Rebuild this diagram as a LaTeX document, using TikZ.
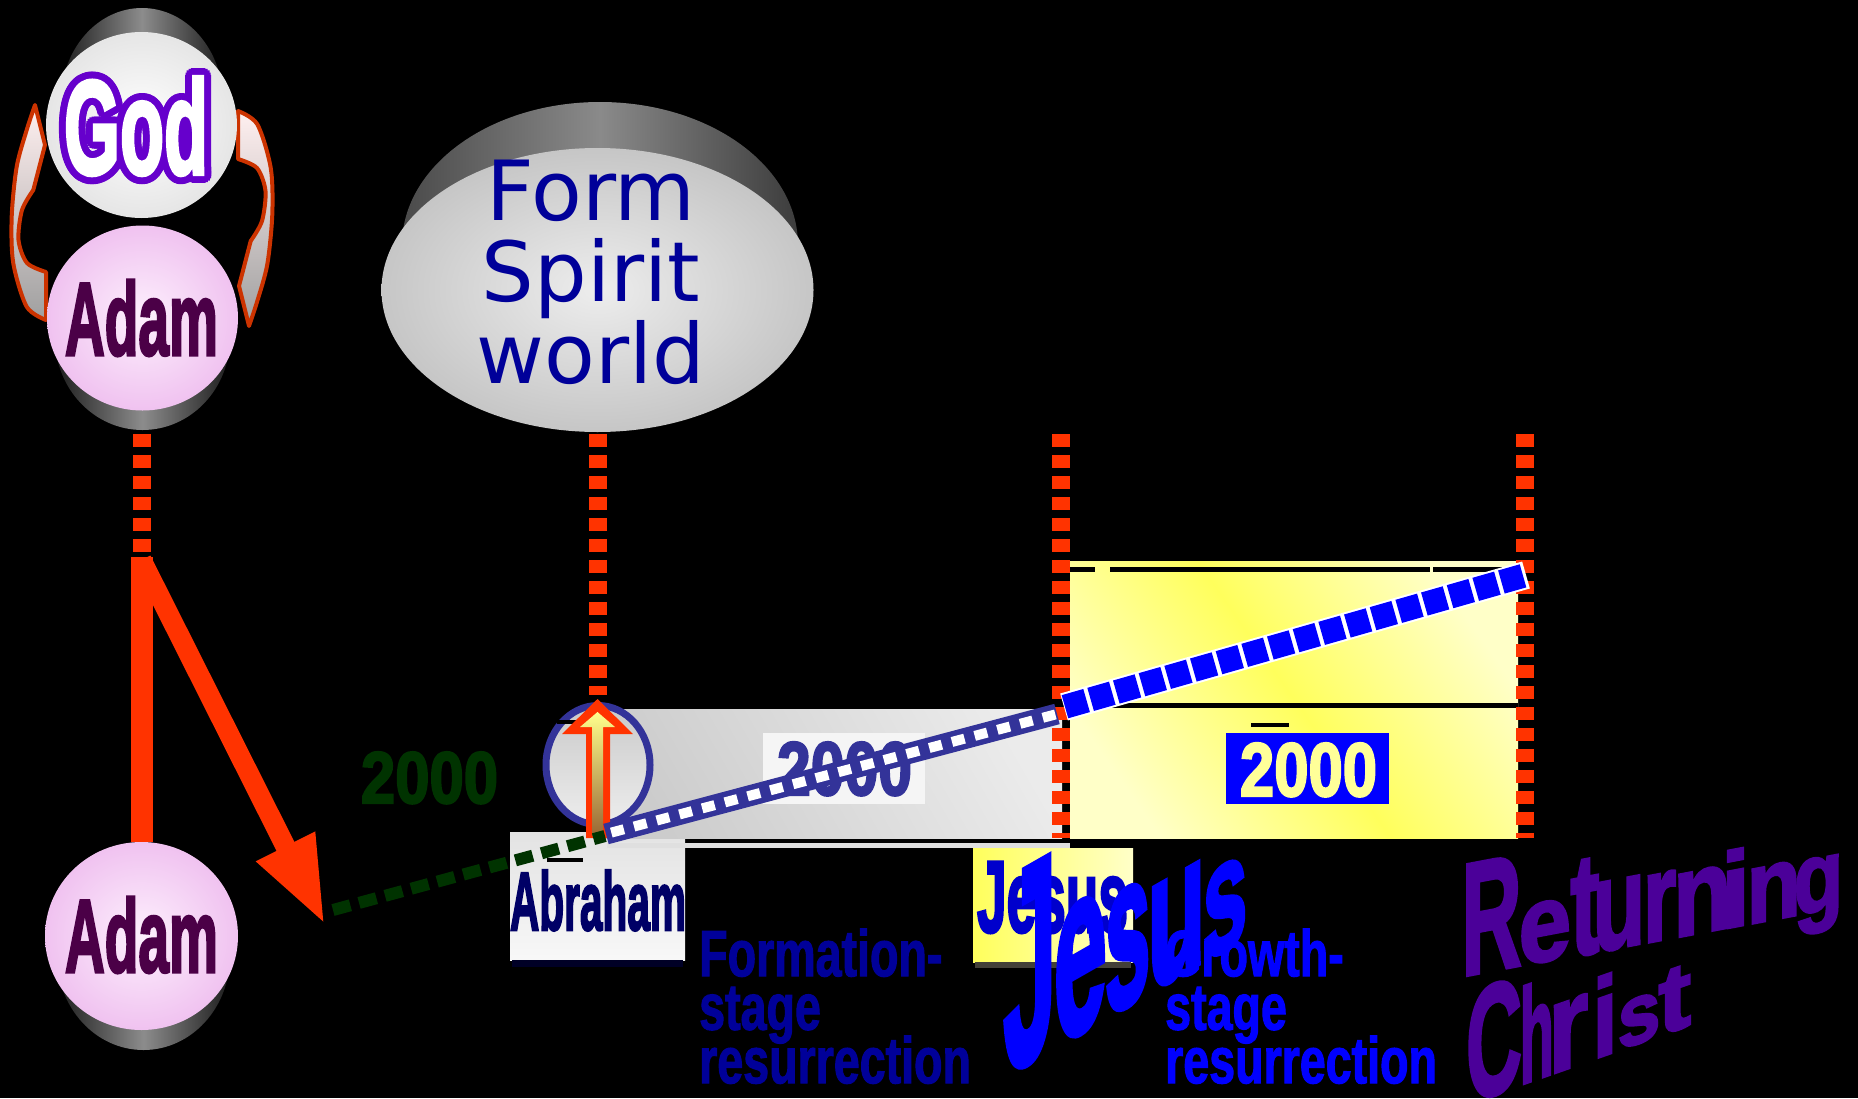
\documentclass[tikz,border=0pt]{standalone}
\usepackage{fontspec}
\usepackage{graphicx}
\usetikzlibrary{arrows.meta,calc}
\newfontfamily\hvfam{Liberation Sans Bold}[FakeBold=3]
\newfontfamily\wafam{Liberation Sans Bold}[FakeBold=2.5]
\newfontfamily\cnfam{Liberation Sans Bold}[FakeStretch=0.71,FakeBold=1.5]
\newfontfamily\djv{DejaVu Sans}
\newcommand\lbf{\hvfam}
\newcommand\cnbf{\cnfam}
\definecolor{orng}{HTML}{FF3300}
\definecolor{arrowred}{HTML}{CC3300}
\definecolor{godpurple}{HTML}{6600CC}
\definecolor{adamtxt}{HTML}{4B0047}
\definecolor{pinkin}{HTML}{FDF0FD}
\definecolor{pinkout}{HTML}{F0C2F0}
\definecolor{cylmid}{HTML}{8C8C8C}
\definecolor{cyldark}{HTML}{1C1C1C}
\definecolor{formblue}{HTML}{000099}
\definecolor{dgreen}{HTML}{003300}
\definecolor{navy}{HTML}{333399}
\definecolor{abrtxt}{HTML}{000066}
\definecolor{jblue}{HTML}{0000CC}
\definecolor{bblue}{HTML}{0000FF}
\definecolor{retpurple}{HTML}{4B0099}
\definecolor{pyellow}{HTML}{FFFF99}
\definecolor{ylight}{HTML}{FFFFC8}
\definecolor{ystrong}{HTML}{FFFF5C}
\definecolor{sface1}{HTML}{EDEDED}
\definecolor{sface2}{HTML}{C6C6C6}
\definecolor{sband1}{HTML}{4A4A4A}
\definecolor{sband2}{HTML}{8A8A8A}
\definecolor{sband3}{HTML}{3C3C3C}
\tikzset{
  odash/.style={draw=orng, line width=18pt, dash pattern=on 13pt off 8pt},
  lbl/.style={inner sep=0pt, outer sep=0pt, anchor=base west},
  cyl/.style={left color=cyldark, right color=cyldark, middle color=cylmid},
  adamface/.style={inner color=pinkin, outer color=pinkout},
  carrow/.style={draw=arrowred, line width=4pt, line join=round, top color=red!6!white, bottom color=gray!75},
}
% name, box left x, baseline y, box width, box height, slant, letter
\newcommand\wa[7]{%
  \begin{scope}[shift={(#2,#3)}]
    \node[name=#1, inner sep=0pt, outer sep=0pt, anchor=base west, yslant=#6, transform shape] at (0,0) {\resizebox{#4pt}{#5pt}{\wafam #7}};
  \end{scope}}
\begin{document}
\begin{tikzpicture}[x=1pt,y=-1pt]
\useasboundingbox (0,0) rectangle (1858,1098);
\fill[black] (0,0) rectangle (1858,1098);

% ---------- Form spirit world ----------
\shade[left color=sband1, right color=sband3, middle color=sband2] (600,245) ellipse [x radius=198, y radius=143];
\shade[inner color=sface1, outer color=sface2] (597.5,290) ellipse [x radius=216, y radius=142];
\node[name=spirit, inner sep=0pt, align=center, text=formblue, font={\djv\fontsize{83}{81.5}\selectfont\lineskiplimit=-100pt}] at (591,272) {Form\\Spirit\\world};

% ---------- curved arrows God <-> Adam ----------
\shadedraw[carrow]
  (35,105) -- (45,145) -- (33.3,190)
  -- plot[smooth] coordinates {(33.3,190) (22,210) (18.5,240) (27,263) (46,272)}
  -- (46,320)
  -- plot[smooth] coordinates {(46,320) (26.7,306.7) (13.3,263.3) (11.7,216.7) (16.7,166.7) (26.7,130) (35,105)}
  -- cycle;
\begin{scope}[rotate around={180:(142,215.5)}]
\shadedraw[carrow]
  (35,105) -- (45,145) -- (33.3,190)
  -- plot[smooth] coordinates {(33.3,190) (22,210) (18.5,240) (27,263) (46,272)}
  -- (46,320)
  -- plot[smooth] coordinates {(46,320) (26.7,306.7) (13.3,263.3) (11.7,216.7) (16.7,166.7) (26.7,130) (35,105)}
  -- cycle;
\end{scope}

% ---------- God / Adam cylinders ----------
\shade[cyl] (142,101) ellipse [x radius=81, y radius=93];
\shade[inner color=white, outer color=gray!20] (141.5,125) ellipse [x radius=95.5, y radius=93];
\shade[cyl] (142.5,338) ellipse [x radius=87.5, y radius=92];
\shade[adamface] (142.5,318) ellipse [x radius=95.5, y radius=92.5];

\foreach \a in {0,20,...,340}
  \node[lbl, name=godc\a, text=godpurple] at ($(64,174)+(\a:7)$) {\resizebox{144pt}{97pt}{\lbf God}};
\node[lbl, name=god, text=white] at (64,174) {\resizebox{144pt}{97pt}{\lbf God}};
\node[lbl, name=adam1, text=adamtxt] at (65,355) {\resizebox{153pt}{75pt}{\lbf Adam}};

% ---------- timeline boxes ----------
\shade[top color=gray!22, bottom color=gray!6] (510,832) rectangle (685,960);
\fill[black!85!blue] (512,960) rectangle (683,967);
\shade[left color=gray!40, right color=gray!16, shading angle=120] (598,709) rectangle (1062,838);
\fill[gray!25] (607,843) rectangle (1070,848);
\shade[left color=ylight, right color=ylight, middle color=ystrong, shading angle=125] (1070,561) rectangle (1518,838);
\fill[black] (1070,567) rectangle (1095,572);
\fill[black] (1110,567) rectangle (1430,572);
\fill[black] (1433,567) rectangle (1518,572);
\fill[black] (1070,703) rectangle (1518,708);
\shade[left color=ystrong, right color=ylight] (973,848) rectangle (1133,962);
\fill[black!75!yellow!60!black] (975,962) rectangle (1131,968);

% ---------- orange dashed verticals ----------
\coordinate (l1a) at (141.5,434); \coordinate (l1b) at (141.5,557);
\coordinate (l2a) at (597.5,434); \coordinate (l2b) at (597.5,695);
\coordinate (l3a) at (1061,434);  \coordinate (l3b) at (1061,838);
\coordinate (l4a) at (1525,434);  \coordinate (l4b) at (1525,838);
\draw[odash] (l1a) -- (l1b);
\draw[odash] (l2a) -- (l2b);
\draw[odash] (l3a) -- (l3b);
\draw[odash] (l4a) -- (l4b);

% ---------- left orange arrows ----------
\coordinate (fork) at (141.5,557);
\coordinate (adam2top) at (141.5,842);
\coordinate (fall) at (325,925);
\draw[line width=22pt, orng] (fork) -- (adam2top);
\draw[line width=20pt, orng, -{Triangle[length=88pt,width=60pt]}] (141.5,560) -- (fall);

% lower Adam
\shade[cyl] (143.5,956) ellipse [x radius=86.5, y radius=94];
\shade[adamface] (141.5,936) ellipse [x radius=96.5, y radius=94];
\node[lbl, name=adam2, text=adamtxt] at (65,972) {\resizebox{153pt}{75pt}{\lbf Adam}};

% ---------- Abraham oval and arrow ----------
\shadedraw[draw=navy, line width=7pt, top color=gray!42, bottom color=gray!14] (598,765) ellipse [x radius=52, y radius=59.5];
\fill[black] (557,720) rectangle (580,724);
\fill[orng] (597.5,699) -- (633,734) -- (610,734) -- (610,838) -- (586,838) -- (586,734) -- (562,734) -- cycle;
\shade[top color=yellow!45!white, bottom color=brown!80!black] (597.5,712) -- (615,727) -- (603,727) -- (603,836) -- (592,836) -- (592,727) -- (580,727) -- cycle;

% ---------- labels 2000 ----------
\node[lbl, name=g2000, text=dgreen] at (361,803) {\resizebox{137pt}{51pt}{\lbf 2000}};
\fill[gray!8] (763,733) rectangle (925,804);
\node[lbl, name=m2000, text=navy] at (777,795) {\resizebox{135pt}{53pt}{\lbf 2000}};
\fill[black] (1251,723) rectangle (1289,727);
\fill[bblue] (1226,733) rectangle (1389,804);
\node[lbl, name=y2000, text=pyellow] at (1240,796) {\resizebox{137pt}{53pt}{\lbf 2000}};

% ---------- connectors along timeline ----------
\coordinate (gstart) at (333,910);
\coordinate (abr) at (605,836);
\draw[line width=12pt, dgreen, dash pattern=on 18pt off 9pt] (gstart) -- (abr);
\coordinate (n1) at (606,834); \coordinate (n2) at (1057,714);
\draw[line width=21pt, navy] (n1) -- (n2);
\draw[line width=10pt, white, dash pattern=on 13pt off 10.5pt, dash phase=18pt] (n1) -- (n2);
\coordinate (b1) at (1064,707); \coordinate (b2) at (1526,575);
\draw[line width=28pt, white] (b1) -- (b2);
\draw[line width=24pt, bblue, dash pattern=on 22.5pt off 4.2pt, dash phase=-1pt] (b1) -- (b2);

% ---------- name labels ----------
\fill[black] (547,858) rectangle (583,862);
\node[lbl, name=abraham, text=abrtxt] at (510,930) {\resizebox{176pt}{60pt}{\lbf Abraham}};
\node[lbl, name=jesus1, text=jblue] at (977,932) {\resizebox{151pt}{70pt}{\lbf Jesus}};

\node[name=formation, anchor=north west, inner sep=0pt, align=left, text=formblue, font={\cnbf\fontsize{65.6}{53.5}\selectfont\lineskiplimit=-100pt}] at (699,928.5) {Formation-\\stage\\resurrection};
\node[name=growth, anchor=north west, inner sep=0pt, align=left, text=bblue, font={\cnbf\fontsize{65.6}{53.5}\selectfont\lineskiplimit=-100pt}] at (1165,928.5) {Growth-\\stage\\resurrection};

% ---------- big Jesus ----------
\begin{scope}[color=bblue]
\wa{bj1}{1003.1}{1075.3}{53.6}{193}{0.57}{J}
\wa{bj2}{1053.6}{1046.8}{53.5}{130}{0.57}{e}
\wa{bj3}{1104.5}{1017.8}{46.1}{117}{0.57}{s}
\wa{bj4}{1147.1}{993.4}{58.8}{102}{0.57}{u}
\wa{bj5}{1202.6}{962.9}{44.9}{86}{0.57}{s}
\end{scope}

% ---------- Returning Christ ----------
\begin{scope}[color=retpurple]
\wa{rc1}{1461.7}{976.1}{59.8}{110}{0.19}{R}
\wa{rc2}{1518.7}{965.8}{52.3}{59}{0.19}{e}
\wa{rc3}{1570.5}{956.6}{29.1}{94}{0.19}{t}
\wa{rc4}{1592.7}{952.5}{52.5}{68}{0.19}{u}
\wa{rc5}{1642.9}{943.3}{33.5}{67}{0.19}{r}
\wa{rc6}{1673.0}{937.9}{58.5}{63}{0.19}{n}
\wa{rc7}{1720.8}{929.3}{29.4}{77}{0.19}{i}
\wa{rc8}{1746.6}{924.6}{54.4}{55}{0.19}{n}
\wa{rc9}{1793.8}{916.1}{49.4}{54}{0.19}{g}
\wa{ch1}{1466.1}{1103.8}{55.8}{110}{0.35}{C}
\wa{ch2}{1519.6}{1085.0}{34.2}{97}{0.35}{h}
\wa{ch3}{1548.2}{1075.1}{39.8}{68}{0.35}{r}
\wa{ch4}{1592.3}{1059.6}{25.5}{80}{0.35}{i}
\wa{ch5}{1617.7}{1050.4}{42.7}{46}{0.35}{s}
\wa{ch6}{1658.4}{1036.0}{32.6}{62}{0.35}{t}
\end{scope}
\end{tikzpicture}
\end{document}
